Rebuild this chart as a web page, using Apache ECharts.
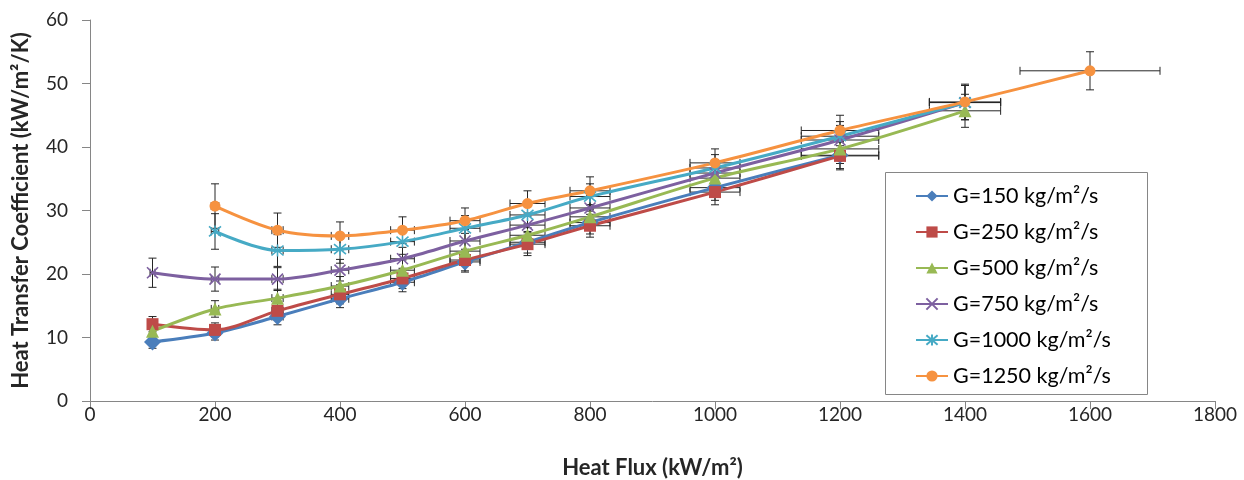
<!DOCTYPE html>
<html>
<head>
<meta charset="utf-8">
<script src="https://cdn.jsdelivr.net/npm/echarts@6/dist/echarts.min.js"></script>
<style>
html,body{margin:0;padding:0;background:#fff;}
#chart{width:1244px;height:480px;}
</style>
</head>
<body>
<div id="chart"></div>
<script>
// ---- data ----
const heatFlux = [100, 200, 300, 400, 500, 600, 700, 800, 1000, 1200, 1400, 1600];
const heatFluxErr = [4, 6, 9, 14, 19, 24, 28, 32, 40, 62, 57, 112];

const seriesNames = ['G=150 kg/m²/s', 'G=250 kg/m²/s', 'G=500 kg/m²/s', 'G=750 kg/m²/s', 'G=1000 kg/m²/s', 'G=1250 kg/m²/s'];

const htc150  = [9.3, 10.7, 13.3, 16.1, 18.7, 21.9, 25.0, 28.1, 33.6, 38.7, null, null];
const htc250  = [12.1, 11.2, 14.2, 16.8, 19.3, 22.2, 24.7, 27.6, 32.9, 38.6, null, null];
const htc500  = [11.0, 14.5, 16.2, 18.1, 20.6, 23.6, 26.1, 29.0, 35.1, 39.7, 45.7, null];
const htc750  = [20.2, 19.2, 19.2, 20.6, 22.4, 25.2, 27.7, 30.4, 35.9, 41.1, 47.0, null];
const htc1000 = [null, 26.7, 23.7, 23.9, 25.1, 27.2, 29.3, 32.2, 36.7, 41.7, 47.0, null];
const htc1250 = [null, 30.7, 26.9, 26.0, 26.9, 28.4, 31.1, 33.1, 37.5, 42.6, 47.1, 52.0];

const err150  = [1.0, 1.1, 1.3, 1.4, 1.5, 1.6, 1.7, 1.8, 2.0, 2.1, null, null];
const err250  = [1.2, 1.1, 1.4, 1.5, 1.6, 1.7, 1.8, 1.8, 2.0, 2.2, null, null];
const err500  = [1.2, 1.3, 1.4, 1.5, 1.6, 1.7, 1.8, 1.9, 2.0, 2.3, 2.6, null];
const err750  = [2.3, 1.9, 1.8, 1.7, 1.8, 1.8, 1.9, 2.0, 2.1, 2.3, 2.7, null];
const err1000 = [null, 2.8, 2.5, 2.2, 2.0, 2.0, 2.0, 2.0, 2.1, 2.3, 2.7, null];
const err1250 = [null, 3.5, 2.7, 2.2, 2.1, 2.0, 2.0, 2.2, 2.2, 2.4, 2.8, 3.0];

const xTicks = [0, 200, 400, 600, 800, 1000, 1200, 1400, 1600, 1800];
const yTicks = [0, 10, 20, 30, 40, 50, 60];

// ---- style ----
const colors = ['#4A7EBB', '#BE4B48', '#98B954', '#7D60A0', '#46AAC5', '#F69240'];
const font = 'Lato, "Open Sans", sans-serif';
const xPath = 'path://M0,0L10,10M10,0L0,10';
const starPath = 'path://M0,0L10,10M10,0L0,10M5,-1L5,11';
const symbols = ['diamond', 'rect', 'triangle', xPath, starPath, 'circle'];
const symbolSizes = [17, 12, 13, 11, 12, 11];
const allY = [htc150, htc250, htc500, htc750, htc1000, htc1250];
const allErr = [err150, err250, err500, err750, err1000, err1250];

const series = [];
allY.forEach((ys, i) => {
  const pts = [];
  const errPts = [];
  heatFlux.forEach((x, k) => {
    if (ys[k] != null) {
      pts.push([x, ys[k]]);
      errPts.push([x, ys[k], heatFluxErr[k], allErr[i][k]]);
    }
  });
  series.push({
    type: 'custom',
    name: seriesNames[i] + '_err',
    z: 2,
    silent: true,
    renderItem: function (params, api) {
      const x = api.value(0), y = api.value(1), ex = api.value(2), ey = api.value(3);
      const top = api.coord([x, y + ey]);
      const bot = api.coord([x, y - ey]);
      const lft = api.coord([x - ex, y]);
      const rgt = api.coord([x + ex, y]);
      const cap = 4;
      const st = { stroke: '#262626', lineWidth: 1 };
      return {
        type: 'group',
        children: [
          { type: 'line', shape: { x1: top[0], y1: top[1], x2: bot[0], y2: bot[1] }, style: st },
          { type: 'line', shape: { x1: top[0] - cap, y1: top[1], x2: top[0] + cap, y2: top[1] }, style: st },
          { type: 'line', shape: { x1: bot[0] - cap, y1: bot[1], x2: bot[0] + cap, y2: bot[1] }, style: st },
          { type: 'line', shape: { x1: lft[0], y1: lft[1], x2: rgt[0], y2: rgt[1] }, style: st },
          { type: 'line', shape: { x1: lft[0], y1: lft[1] - cap, x2: lft[0], y2: lft[1] + cap }, style: st },
          { type: 'line', shape: { x1: rgt[0], y1: rgt[1] - cap, x2: rgt[0], y2: rgt[1] + cap }, style: st }
        ]
      };
    },
    data: errPts
  });
  const strokeSym = (i === 3 || i === 4);
  series.push({
    type: 'line',
    name: seriesNames[i],
    z: 3,
    smooth: 0.3,
    symbol: symbols[i],
    symbolSize: symbolSizes[i],
    showAllSymbol: true,
    lineStyle: { color: colors[i], width: 3 },
    itemStyle: strokeSym ? { color: colors[i], borderColor: colors[i], borderWidth: 1.6 } : { color: colors[i], borderWidth: 0 },
    data: pts
  });
});

const chart = echarts.init(document.getElementById('chart'), null, { renderer: 'canvas' });
chart.setOption({
  animation: false,
  backgroundColor: '#ffffff',
  grid: { left: 90, right: 29, top: 20, bottom: 79, containLabel: false, outerBoundsMode: 'none' },
  xAxis: {
    type: 'value',
    min: xTicks[0], max: xTicks[xTicks.length - 1], interval: 200,
    name: 'Heat Flux (kW/m²)',
    nameLocation: 'middle', nameGap: 56,
    nameTextStyle: { fontFamily: font, fontWeight: 'bold', fontSize: 22, color: '#262626' },
    axisLine: { show: true, lineStyle: { color: '#868686', width: 1 } },
    axisTick: { show: true, length: 8, lineStyle: { color: '#868686' } },
    axisLabel: { fontFamily: font, fontSize: 19, color: '#262626', margin: 4, formatter: v => String(v) },
    splitLine: { show: false }
  },
  yAxis: {
    type: 'value',
    min: yTicks[0], max: yTicks[yTicks.length - 1], interval: 10,
    name: 'Heat Transfer Coefficient (kW/m²/K)',
    nameLocation: 'middle', nameGap: 58, nameRotate: 90,
    nameTextStyle: { fontFamily: font, fontWeight: 'bold', fontSize: 22, color: '#262626' },
    axisLine: { show: true, lineStyle: { color: '#868686', width: 1 } },
    axisTick: { show: true, length: 8, inside: false, lineStyle: { color: '#868686' } },
    axisLabel: { fontFamily: font, fontSize: 19, color: '#262626', margin: 22, formatter: v => String(v) },
    splitLine: { show: false }
  },
  legend: {
    orient: 'vertical',
    z: 20,
    left: 915, top: 185,
    data: seriesNames,
    itemWidth: 32, itemHeight: 14, itemGap: 14,
    textStyle: { fontFamily: font, fontSize: 21.5, color: '#000', lineHeight: 22 },
    padding: 0
  },
  graphic: [{
    type: 'rect', z: 5, silent: true,
    shape: { x: 885.5, y: 172.5, width: 262, height: 222 },
    style: { fill: '#fff', stroke: '#868686', lineWidth: 1 }
  }],
  series: series
});
</script>
</body>
</html>
